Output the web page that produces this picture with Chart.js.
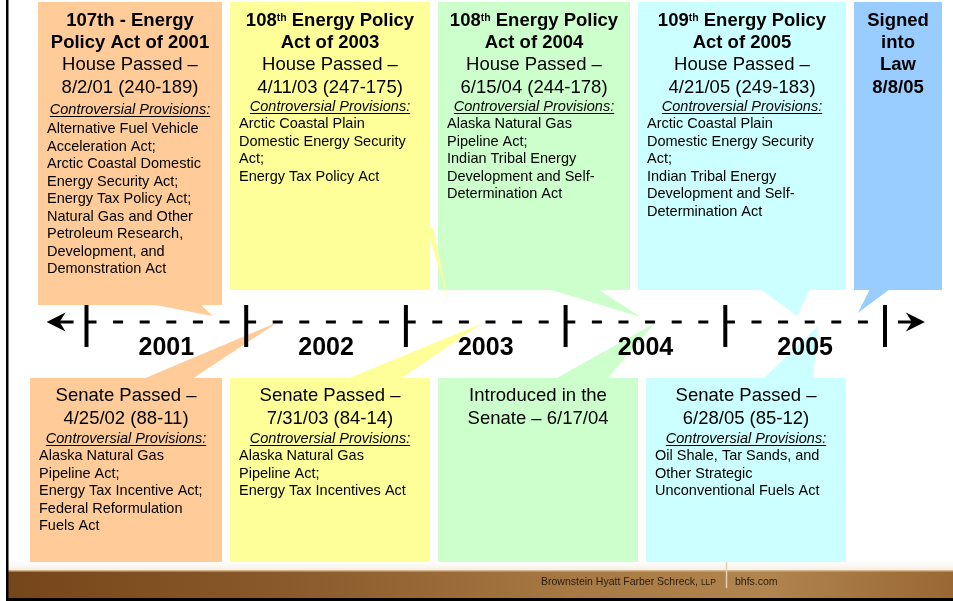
<!DOCTYPE html>
<html lang="en">
<head>
<meta charset="UTF-8">
<title>Energy Policy Act Timeline</title>
<script src="https://cdn.jsdelivr.net/npm/chart.js"></script>
<style>
  html, body { margin: 0; padding: 0; background: #fff; }
  #wrap { width: 953px; height: 601px; }
</style>
</head>
<body>
<div id="wrap"><canvas id="timeline" width="953" height="601"></canvas></div>
<script>
// ---- data ----
const years = [2001, 2002, 2003, 2004, 2005];
const tickYears = [2001, 2002, 2003, 2004, 2005, 2006];

const houseHeadings = [
  ['107th - Energy', 'Policy Act of 2001'],
  ['108{th} Energy Policy', 'Act of 2003'],
  ['108{th} Energy Policy', 'Act of 2004'],
  ['109{th} Energy Policy', 'Act of 2005'],
  ['Signed', 'into', 'Law', '8/8/05']
];
const houseActions = [
  ['House Passed –', '8/2/01 (240-189)'],
  ['House Passed –', '4/11/03 (247-175)'],
  ['House Passed –', '6/15/04 (244-178)'],
  ['House Passed –', '4/21/05 (249-183)'],
  []
];
const houseProvisions = [
  ['Alternative Fuel Vehicle', 'Acceleration Act;', 'Arctic Coastal Domestic', 'Energy Security Act;',
   'Energy Tax Policy Act;', 'Natural Gas and Other', 'Petroleum Research,', 'Development, and', 'Demonstration Act'],
  ['Arctic Coastal Plain', 'Domestic Energy Security', 'Act;', 'Energy Tax Policy Act'],
  ['Alaska Natural Gas', 'Pipeline Act;', 'Indian Tribal Energy', 'Development and Self-', 'Determination Act'],
  ['Arctic Coastal Plain', 'Domestic Energy Security', 'Act;', 'Indian Tribal Energy',
   'Development and Self-', 'Determination Act'],
  []
];
// where each callout points on the timeline (decimal years)
const houseMarkYears = [2001.79, 2003.27, 2004.47, 2005.45, 2005.83];

const senateActions = [
  ['Senate Passed –', '4/25/02 (88-11)'],
  ['Senate Passed –', '7/31/03 (84-14)'],
  ['Introduced in the', 'Senate – 6/17/04'],
  ['Senate Passed –', '6/28/05 (85-12)']
];
const senateProvisions = [
  ['Alaska Natural Gas', 'Pipeline Act;', 'Energy Tax Incentive Act;', 'Federal Reformulation', 'Fuels Act'],
  ['Alaska Natural Gas', 'Pipeline Act;', 'Energy Tax Incentives Act'],
  [],
  ['Oil Shale, Tar Sands, and', 'Other Strategic', 'Unconventional Fuels Act']
];
const senateMarkYears = [2002.20, 2003.48, 2004.56, 2005.58];

const provisionsLabel = 'Controversial Provisions:';
const footerFirm = 'Brownstein Hyatt Farber Schreck, ';
const footerSuffix = 'LLP';
const footerSite = 'bhfs.com';

// ---- style / layout ----
const FONT = '"Liberation Sans", Arial, sans-serif';
const boxColors = ['#FFCC99', '#FFFF99', '#CCFFCC', '#CCFFFF', '#99CCFF'];
// left, top, right, bottom (px inside the chart area)
const topBoxes = [[38, 2, 222, 305], [230, 2, 430, 290], [438, 2, 630, 290], [638, 2, 846, 290], [854, 2, 942, 290]];
const bottomBoxes = [[30, 378, 222, 562], [230, 378, 430, 562], [438, 378, 638, 562], [646, 378, 846, 562]];
// callout bases on the box edges, tip height on the y scale (0 = timeline)
const topTailBases = [[[150, 304], [200, 304]], [[427, 228], [433, 228]], [[548, 289], [598, 289]], [[760, 289], [810, 289]], [[870, 289], [890, 289]]];
const topTipLevels = [-6, -19, -5, -6, -9];
const bottomTailBases = [[[143, 379], [192, 379]], [[347, 379], [400, 379]], [[555, 379], [607, 379]], [[763, 379], [813, 379]]];
const bottomTipLevels = [0, 1, 1, 4];
const arrowYears = [2000.75, 2006.25];

function polygon(ctx, pts, color) {
  ctx.beginPath();
  pts.forEach(([px, py], i) => i ? ctx.lineTo(px, py) : ctx.moveTo(px, py));
  ctx.closePath();
  ctx.fillStyle = color;
  ctx.fill();
}

// centred text, "{..}" parts are superscript
function richText(ctx, str, cx, baseY, size, weight) {
  const segs = str.split(/(\{[^}]*\})/).filter(s => s).map(p =>
    p.startsWith('{') ? { t: p.slice(1, -1), sup: true } : { t: p, sup: false });
  let total = 0;
  segs.forEach(s => {
    ctx.font = `${weight} ${s.sup ? 10.5 : size}px ${FONT}`;
    s.w = ctx.measureText(s.t).width;
    total += s.w;
  });
  let xx = cx - total / 2;
  ctx.textAlign = 'left';
  segs.forEach(s => {
    ctx.font = `${weight} ${s.sup ? 10.5 : size}px ${FONT}`;
    ctx.fillText(s.t, xx, s.sup ? baseY - 5 : baseY);
    xx += s.w;
  });
}

function provisionsBlock(ctx, items, left, cx, labelY, firstY) {
  if (!items.length) return;
  ctx.fillStyle = '#000';
  ctx.font = `italic 14.5px ${FONT}`;
  ctx.textAlign = 'center';
  ctx.fillText(provisionsLabel, cx, labelY);
  const w = ctx.measureText(provisionsLabel).width;
  ctx.fillRect(cx - w / 2, labelY + 2, w, 1);
  ctx.font = `14.5px ${FONT}`;
  ctx.textAlign = 'left';
  items.forEach((t, k) => ctx.fillText(t, left + 9, firstY + k * 17.5));
}

const slidePlugin = {
  id: 'slide',
  beforeDatasetsDraw(chart) {
    const { ctx, chartArea: a, scales: { x, y } } = chart;
    const X = v => a.left + v, Y = v => a.top + v;
    ctx.save();

    // slide frame and footer band
    const fade = ctx.createLinearGradient(0, Y(561), 0, Y(570));
    fade.addColorStop(0, 'rgba(250,244,236,0)');
    fade.addColorStop(1, '#f6eee3');
    ctx.fillStyle = fade;
    ctx.fillRect(X(8), Y(561), 945, 9);
    const band = ctx.createLinearGradient(X(8), 0, X(953), 0);
    band.addColorStop(0, '#76461b');
    band.addColorStop(0.3, '#8a5a2a');
    band.addColorStop(0.6, '#a77944');
    band.addColorStop(0.8, '#b1854f');
    band.addColorStop(1, '#996733');
    ctx.fillStyle = band;
    ctx.fillRect(X(8), Y(570), 945, 28);
    ctx.fillStyle = '#d4b690';
    ctx.fillRect(X(8), Y(570), 945, 1.5);
    ctx.fillStyle = '#000';
    ctx.fillRect(X(6), Y(0), 2.5, 598);
    ctx.fillRect(X(6), Y(598), 947, 3);

    // boxes
    topBoxes.forEach((b, i) => { ctx.fillStyle = boxColors[i]; ctx.fillRect(X(b[0]), Y(b[1]), b[2] - b[0], b[3] - b[1]); });
    bottomBoxes.forEach((b, i) => { ctx.fillStyle = boxColors[i]; ctx.fillRect(X(b[0]), Y(b[1]), b[2] - b[0], b[3] - b[1]); });

    // callout pointers to the dates on the timeline
    topTailBases.forEach((bs, i) => polygon(ctx, [
      [X(bs[0][0]), Y(bs[0][1])], [X(bs[1][0]), Y(bs[1][1])],
      [x.getPixelForValue(houseMarkYears[i]), y.getPixelForValue(topTipLevels[i])]
    ], boxColors[i]));
    bottomTailBases.forEach((bs, i) => polygon(ctx, [
      [X(bs[0][0]), Y(bs[0][1])], [X(bs[1][0]), Y(bs[1][1])],
      [x.getPixelForValue(senateMarkYears[i]), y.getPixelForValue(bottomTipLevels[i])]
    ], boxColors[i]));

    // house texts
    ctx.fillStyle = '#000';
    ctx.textBaseline = 'alphabetic';
    const lineYs = [26, 48, 70, 93];
    topBoxes.forEach((b, i) => {
      const cx = X((b[0] + b[2]) / 2);
      let k = 0;
      houseHeadings[i].forEach(t => richText(ctx, t, cx, Y(lineYs[k++]), 18.5, 'bold'));
      houseActions[i].forEach(t => richText(ctx, t, cx, Y(lineYs[k++]), 18.5, 'normal'));
      const shift = i === 0 ? 3 : 0;
      provisionsBlock(ctx, houseProvisions[i], X(b[0]), cx, Y(111 + shift), Y(128 + shift + (i === 0 ? 2 : 0)));
    });

    // senate texts
    bottomBoxes.forEach((b, i) => {
      const cx = X((b[0] + b[2]) / 2);
      richText(ctx, senateActions[i][0], cx, Y(401), 18.5, 'normal');
      richText(ctx, senateActions[i][1], cx, Y(424), 18.5, 'normal');
      provisionsBlock(ctx, senateProvisions[i], X(b[0]), cx, Y(443), Y(460));
    });

    // footer text
    ctx.fillStyle = '#2a1c0e';
    ctx.textAlign = 'right';
    ctx.font = `8.5px ${FONT}`;
    ctx.fillText(footerSuffix, X(716), Y(585));
    const sw = ctx.measureText(footerSuffix).width;
    ctx.font = `10.5px ${FONT}`;
    ctx.fillText(footerFirm, X(716) - sw, Y(585));
    ctx.textAlign = 'left';
    ctx.fillText(footerSite, X(735), Y(585));
    ctx.strokeStyle = '#e3cfb2';
    ctx.lineWidth = 1.5;
    ctx.beginPath();
    ctx.moveTo(X(726.5), Y(562));
    ctx.lineTo(X(726.5), Y(588));
    ctx.stroke();
    ctx.restore();
  },
  afterDatasetsDraw(chart) {
    const { ctx, scales: { x, y } } = chart;
    ctx.save();
    const ly = y.getPixelForValue(0);
    ctx.fillStyle = '#000';
    ctx.strokeStyle = '#000';
    ctx.lineWidth = 3;
    arrowYears.forEach((yr, i) => {
      const tx = x.getPixelForValue(yr);
      const d = i === 0 ? 1 : -1;
      ctx.beginPath();
      ctx.moveTo(tx + d * 8, ly);
      ctx.lineTo(tx + d * 27, ly);
      ctx.stroke();
      polygon(ctx, [[tx, ly], [tx + d * 19, ly - 9.5], [tx + d * 13, ly], [tx + d * 19, ly + 9.5]], '#000');
    });
    // year labels sit in the middle of each year
    ctx.fillStyle = '#000';
    ctx.font = `bold 25px ${FONT}`;
    ctx.textAlign = 'center';
    ctx.textBaseline = 'alphabetic';
    years.forEach(yr => ctx.fillText(String(yr), x.getPixelForValue(yr + 0.5), y.getPixelForValue(33)));
    ctx.restore();
  }
};

new Chart(document.getElementById('timeline').getContext('2d'), {
  type: 'scatter',
  data: {
    datasets: [
      {
        label: 'Year marks',
        data: tickYears.map(yr => ({ x: yr, y: 4 })),
        pointStyle: 'line',
        rotation: 90,
        pointRadius: 21,
        pointHoverRadius: 21,
        borderWidth: 4,
        borderColor: '#000',
        showLine: false
      },
      {
        label: 'Timeline',
        data: [{ x: tickYears[0], y: 0 }, { x: tickYears[tickYears.length - 1], y: 0 }],
        showLine: true,
        borderColor: '#000',
        borderWidth: 3,
        borderDash: [10, 16.6],
        pointRadius: 0
      }
    ]
  },
  options: {
    responsive: false,
    animation: false,
    events: [],
    layout: { padding: 0, autoPadding: false },
    plugins: { legend: { display: false }, tooltip: { enabled: false } },
    scales: {
      x: { type: 'linear', min: 2000.4584, max: 2006.4258, display: false },
      y: { type: 'linear', min: -322, max: 279, reverse: true, display: false }
    }
  },
  plugins: [slidePlugin]
});
</script>
</body>
</html>
